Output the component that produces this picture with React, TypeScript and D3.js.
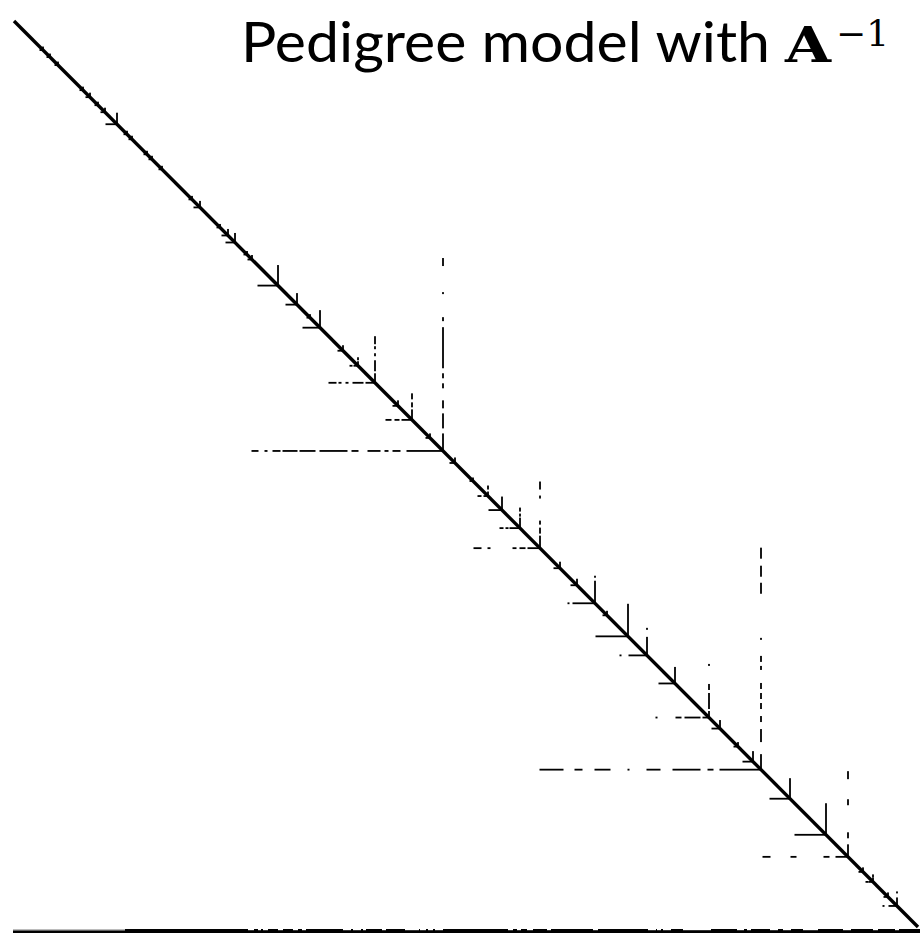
import React from "react";
import * as d3 from "d3";

// Matrix dimension and dense last rows
const lastDiag = 904;
const denseRowIndex = 909;
const denseTopRowIndex = 907;
const denseTopRowStart = 111;

// Hubs: diagonal index and its off-diagonal runs (mirrored into row & column)
const hubIndex = [
  29, 36, 44, 69, 76, 84, 91, 103, 113, 118, 133, 138, 148, 178, 186, 206, 214, 221,
  233, 238, 264, 283, 296, 306, 329, 344, 361, 384, 398, 416, 441, 459, 474, 488, 506,
  526, 546, 563, 581, 593, 614, 633, 661, 695, 706, 724, 739, 776, 812, 834, 849, 859,
  874, 883,
];
const hubRuns: number[][][] = [
  [[26, 28]], [[33, 35]], [[41, 43]], [[66, 68]], [[72, 75]], [[81, 83]], [[87, 90]],
  [[92, 102]], [[110, 112]], [[115, 117]], [[130, 132]], [[135, 137]], [[145, 147]],
  [[175, 177]], [[180, 185]], [[203, 205]], [[208, 213]], [[212, 220]], [[230, 232]],
  [[234, 237]], [[244, 263]], [[272, 282]], [[293, 295]], [[289, 305]], [[324, 328]],
  [[336, 338], [340, 343]],
  [[315, 322], [325, 327], [332, 334], [339, 349], [352, 360]],
  [[379, 383]],
  [[372, 377], [381, 385], [388, 397]],
  [[412, 415]], [[436, 440]], [[456, 458]],
  [[464, 467], [470, 473]],
  [[475, 487]],
  [[486, 489], [492, 494], [496, 505]],
  [[460, 467], [474, 476], [499, 502], [506, 511], [514, 525]],
  [[540, 545]], [[557, 562]],
  [[554, 555], [559, 580]],
  [[589, 592]],
  [[582, 613]],
  [[606, 607], [615, 632]],
  [[645, 660]],
  [[642, 643], [662, 667], [671, 686], [689, 694]],
  [[698, 705]], [[720, 723]], [[729, 738]],
  [[756, 775]],
  [[781, 811]],
  [[749, 756], [777, 782], [810, 815], [822, 833]],
  [[845, 848]],
  [[852, 854], [855, 858]],
  [[870, 873]],
  [[869, 870], [875, 882]],
];

// Large hubs, whose row and column runs are read separately
const bigHubIndex = [429, 747];
const bigHubRowRuns: number[][][] = [
  [[238, 244], [251, 253], [259, 266], [269, 283], [286, 301], [306, 333], [338, 344],
   [354, 366], [371, 374], [379, 386], [393, 428]],
  [[526, 549], [561, 568], [581, 596], [614, 615], [633, 646], [659, 686], [694, 699],
   [706, 746]],
];
const bigHubColRuns: number[][][] = [
  [[237, 244], [271, 272], [296, 299], [306, 346], [352, 356], [362, 366], [379, 386],
   [392, 406], [412, 428]],
  [[526, 536], [544, 554], [561, 571], [616, 617], [634, 639], [644, 647], [661, 666],
   [671, 676], [681, 686], [694, 699], [707, 719], [732, 746]],
];

// Gaps in the upper dense row
const denseTopRowGaps = [
  [234, 239], [244, 246], [249, 253], [264, 268], [279, 283], [288, 291], [329, 336],
  [339, 346], [349, 351], [368, 371], [391, 404], [406, 411], [414, 418], [421, 428],
  [494, 498], [503, 506], [513, 518], [533, 536], [579, 583], [634, 641], [643, 646],
  [649, 656], [669, 696], [723, 729], [733, 736], [756, 763], [769, 776], [789, 803],
  [829, 836], [859, 863], [881, 884],
];

const titleText = "Pedigree model with";
const titleSymbol = "A";
const titleSup = "\u22121";

export default function App() {
  const W = 920;
  const H = 933;
  const x = d3.scaleLinear().domain([0, lastDiag]).range([14, 918]);
  const y = d3.scaleLinear().domain([0, lastDiag]).range([21, 927]);
  const arm = 1.8;

  const rects: JSX.Element[] = [];
  let k = 0;
  const addRow = (row: number, a: number, b: number, th = arm) => {
    rects.push(
      <rect key={k++} x={x(a) - 0.5} y={y(row) - th / 2} width={x(b) - x(a) + 1} height={th} fill="#000" />
    );
  };
  const addCol = (col: number, a: number, b: number, th = arm) => {
    rects.push(
      <rect key={k++} x={x(col) - th / 2} y={y(a) - 0.5} width={th} height={y(b) - y(a) + 1} fill="#000" />
    );
  };

  hubIndex.forEach((c, i) => {
    hubRuns[i].forEach(([a, b]) => {
      addRow(c, a, b);
      addCol(c, a, b);
    });
  });
  bigHubIndex.forEach((c, i) => {
    bigHubRowRuns[i].forEach(([a, b]) => addRow(c, a, b));
    bigHubColRuns[i].forEach(([a, b]) => addCol(c, a, b));
  });

  // dense bottom rows
  const yb = y(denseRowIndex);
  rects.push(<rect key={k++} x={x(-1)} y={yb - 1.8} width={x(lastDiag + 3) - x(-1)} height={3.6} fill="#000" />);
  rects.push(<rect key={k++} x={x(-1)} y={y(denseTopRowIndex) - 0.5} width={x(denseTopRowStart) - x(-1)} height={1.2} fill="#777" />);
  let start = denseTopRowStart;
  const topSegs: number[][] = [];
  denseTopRowGaps.forEach(([a, b]) => {
    topSegs.push([start, a - 1]);
    start = b + 1;
  });
  topSegs.push([start, lastDiag + 3]);
  topSegs.forEach(([a, b]) => {
    if (b >= a)
      rects.push(
        <rect key={k++} x={x(a)} y={y(denseTopRowIndex) - 1} width={x(b) - x(a) + 1} height={2} fill="#000" />
      );
  });

  return (
    <svg width={W} height={H} style={{ position: "absolute", left: 0, top: 0, display: "block", background: "#fff" }}>
      <rect x={0} y={0} width={W} height={H} fill="#fff" />
      <line x1={x(0)} y1={y(0)} x2={x(lastDiag)} y2={y(lastDiag)} stroke="#000" strokeWidth={3.4} />
      {rects}
      <text x={241} y={62} fontFamily="Lato, 'Open Sans', sans-serif" fontSize={57} fill="#000"
        textLength={529} lengthAdjust="spacingAndGlyphs">
        {titleText}
      </text>
      <text x={785} y={62} fontFamily="'DejaVu Serif', 'Liberation Serif', serif" fontWeight="bold" fontSize={48} fill="#000"
        textLength={46} lengthAdjust="spacingAndGlyphs">
        {titleSymbol}
      </text>
      <text x={836} y={46} fontFamily="'DejaVu Serif', 'Liberation Serif', serif" fontSize={36} fill="#000">
        {titleSup}
      </text>
    </svg>
  );
}
